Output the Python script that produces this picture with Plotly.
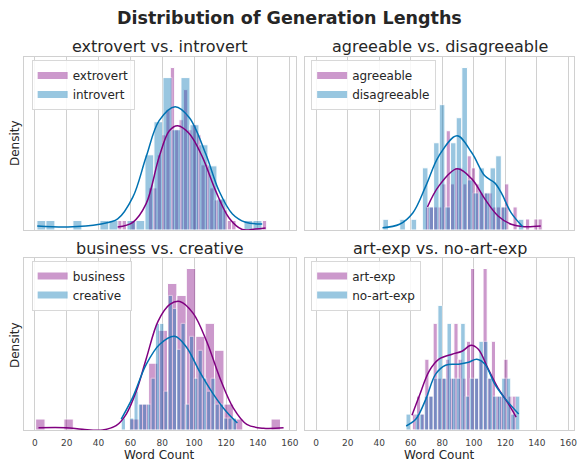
import plotly.graph_objects as go

# ---------------- data (densities in relative units) ----------------
# Panel 1: extrovert vs. introvert
extrovert_bin_start = 52.0
extrovert_bin_width = 2.75
extrovert_density = [9.5, 9.5, 0, 9.5, 0, 0, 0, 42, 42, 75, 95, 120, 162, 100, 110, 140, 100,
                     105, 95, 65, 65, 42, 30, 30, 20, 9.5, 9.5, 0, 0, 0, 0, 0, 0, 9.5]
introvert_bin_start = 1.3
introvert_bin_width = 5.65
introvert_density = [9.5, 9.5, 0, 0, 9.5, 0, 0, 9.5, 9.5, 0, 9.5, 9.5, 75, 108, 152, 100, 152,
                     105, 85, 64, 31, 0, 0, 9.5, 9.5]
extrovert_kde_x = [52, 61.5, 69.8, 78, 84.4, 89.6, 97, 105.2, 113.5, 121.9, 130.2, 138.5, 144.8]
extrovert_kde_y = [3, 7.7, 26, 72.7, 99, 104, 96, 72.7, 39, 12, 0.5, 1, 2]
introvert_kde_x = [1.5, 20.8, 40.6, 52, 61.5, 69.8, 78, 88, 97, 107.3, 115.6, 124, 132.3, 142.7]
introvert_kde_y = [4, 3, 5.7, 11, 32.7, 72.7, 109, 123, 112, 75.7, 39, 16, 7.7, 6]

# Panel 2: agreeable vs. disagreeable
agreeable_bin_start = 69.25
agreeable_bin_width = 2.65
agreeable_density = [23, 23, 23, 23, 46, 99, 46, 62, 62, 46, 74, 62, 46, 37, 37, 37, 23, 23,
                     23, 46, 0, 23, 0, 0, 11, 0, 11, 11]
disagreeable_bin_start = 42.3
disagreeable_bin_width = 3.58
disagreeable_density = [10.7, 0, 0, 10.7, 0, 10.7, 0, 62, 23, 87, 125, 23, 87, 112, 162, 50,
                        37, 62, 37, 62, 74, 23, 0, 0, 10.7]
agreeable_kde_x = [70.6, 77.9, 89.4, 98.75, 107, 115.4, 123.75, 132.1, 142.5]
agreeable_kde_y = [23, 44, 61, 51, 31, 14, 5.7, 3.3, 4]
disagreeable_kde_x = [42.1, 52.9, 61.3, 69.6, 77.9, 89.4, 98.75, 107, 113.3, 117.5, 123.75, 131]
disagreeable_kde_y = [2.3, 5.7, 17, 44, 74, 94, 77, 54, 47, 37, 17, 3.3]

# Panel 3: business vs. creative
business_bin_start = 0.5
business_bin_width = 5.91
business_density = [11, 0, 0, 11, 0, 0, 0, 0, 0, 0, 11, 26, 67, 100, 147, 135, 162, 94, 107,
                    80, 26, 11, 0, 0, 0, 11]
creative_bin_start = 54.2
creative_bin_width = 2.68
creative_density = [12, 0, 12, 39, 26, 26, 26, 52, 107, 107, 39, 135, 122, 81, 107, 26, 94,
                    52, 80, 52, 39, 52, 26, 26, 12, 12, 12]
business_kde_x = [2.3, 19.5, 30, 42.6, 51, 57.4, 63.7, 70, 77.3, 84.7, 91, 99.4, 107.8, 116.2,
                  124.6, 133, 143.5, 156.1]
business_kde_y = [2.3, 2.3, 0.7, 0.1, 4.3, 16, 39, 72, 109, 126, 129, 117, 89, 52, 22, 5.7,
                  1.7, 2.3]
creative_kde_x = [54.2, 61.5, 70, 78.4, 87.8, 95.2, 103.6, 112, 120.4, 127.1]
creative_kde_y = [11, 33, 66, 86, 94, 83, 58, 36, 18, 7]

# Panel 4: art-exp vs. no-art-exp
artexp_bin_start = 61.0
artexp_bin_width = 2.64
artexp_density = [16, 34, 16, 71, 34, 107, 52, 52, 71, 52, 107, 71, 52, 89, 162, 52, 71, 162,
                  52, 89, 34, 34, 71, 34, 34]
noartexp_bin_start = 57.0
noartexp_bin_width = 2.89
noartexp_density = [16, 0, 16, 16, 34, 34, 52, 125, 52, 107, 52, 52, 107, 34, 52, 52, 89, 89,
                    52, 34, 34, 52, 52, 16, 34]
artexp_kde_x = [60.8, 65.4, 71.7, 77.9, 86.25, 92.5, 98.3, 102.9, 109.2, 115.4, 121.7, 126.9]
artexp_kde_y = [14.7, 34, 59, 71, 76, 79, 85, 81, 61, 42, 27, 13]
noartexp_kde_x = [57.1, 63.3, 69.6, 75.8, 82.1, 90.4, 96.7, 101.9, 107.1, 113.3, 119.6, 128.5]
noartexp_kde_y = [4, 11, 31, 56, 65, 66, 68, 71, 66, 46, 32, 16]

panel_titles = ["extrovert vs. introvert", "agreeable vs. disagreeable",
                "business vs. creative", "art-exp vs. no-art-exp"]
x_ticks = [0, 20, 40, 60, 80, 100, 120, 140, 160]

# ---------------- styling ----------------
PURPLE = "#800080"
BLUE = "#0072B2"
PURPLE_FILL = "rgba(128,0,128,0.4)"
BLUE_FILL = "rgba(0,114,178,0.4)"
TEXT = "#262626"
GRID = "#d0d0d0"
FONT = "DejaVu Sans"

W, H = 581, 462
ML, MR, MT, MB = 24, 4, 57, 32
PW, PH = W - ML - MR, H - MT - MB


def px_x(px):
    return (px - ML) / PW


def px_y(py):
    return (H - MB - py) / PH


doms_x = [[px_x(24), px_x(297)], [px_x(307), px_x(577)]]
doms_y = [[px_y(230), px_y(57)], [px_y(430), px_y(258)]]

series = [
    ("extrovert", extrovert_bin_start, extrovert_bin_width, extrovert_density, extrovert_kde_x, extrovert_kde_y,
     "introvert", introvert_bin_start, introvert_bin_width, introvert_density, introvert_kde_x, introvert_kde_y),
    ("agreeable", agreeable_bin_start, agreeable_bin_width, agreeable_density, agreeable_kde_x, agreeable_kde_y,
     "disagreeable", disagreeable_bin_start, disagreeable_bin_width, disagreeable_density, disagreeable_kde_x, disagreeable_kde_y),
    ("business", business_bin_start, business_bin_width, business_density, business_kde_x, business_kde_y,
     "creative", creative_bin_start, creative_bin_width, creative_density, creative_kde_x, creative_kde_y),
    ("art-exp", artexp_bin_start, artexp_bin_width, artexp_density, artexp_kde_x, artexp_kde_y,
     "no-art-exp", noartexp_bin_start, noartexp_bin_width, noartexp_density, noartexp_kde_x, noartexp_kde_y),
]

fig = go.Figure()
layout = dict(
    width=W, height=H, margin=dict(l=ML, r=MR, t=MT, b=MB),
    paper_bgcolor="white", plot_bgcolor="white",
    barmode="overlay", showlegend=True,
    font=dict(family=FONT, color=TEXT),
)

legend_pos = [(31.7, 60), (312.7, 60), (31.7, 260.5), (312.7, 260.5)]
annotations = []

for i, (pn, ps, pw, pd, pkx, pky, bn, bs, bw, bd, bkx, bky) in enumerate(series):
    row, col = i // 2, i % 2
    ax = "" if i == 0 else str(i + 1)
    xa, ya = "x" + ax, "y" + ax
    lg = "legend" if i == 0 else "legend" + str(i + 1)

    for name, start, width, dens, fill, line in [(pn, ps, pw, pd, PURPLE, PURPLE), (bn, bs, bw, bd, BLUE, BLUE)]:
        centers = [start + width * (k + 0.5) for k in range(len(dens))]
        fig.add_trace(go.Bar(
            x=centers, y=dens, width=[width] * len(dens), xaxis=xa, yaxis=ya,
            marker=dict(color=fill, line=dict(color="white", width=1)), opacity=0.4,
            showlegend=False, hoverinfo="skip"))
    for kx, ky, color in [(pkx, pky, PURPLE), (bkx, bky, BLUE)]:
        fig.add_trace(go.Scatter(
            x=kx, y=ky, xaxis=xa, yaxis=ya, mode="lines",
            line=dict(color=color, width=1.5, shape="spline", smoothing=1.0),
            showlegend=False, hoverinfo="skip"))
    # legend proxies (patches)
    for name, fill in [(pn, PURPLE_FILL), (bn, BLUE_FILL)]:
        fig.add_trace(go.Scatter(
            x=[None], y=[None], xaxis=xa, yaxis=ya, mode="lines", name=name,
            line=dict(color=fill, width=7), legend=lg, showlegend=True))

    ymax = max(max(pd), max(bd)) * 1.065
    layout["xaxis" + ax] = dict(
        domain=doms_x[col], anchor=ya, range=[-6.8, 163.6], tickvals=x_ticks,
        showgrid=True, gridcolor=GRID, gridwidth=1, zeroline=False,
        showline=True, mirror=True, linecolor=GRID, linewidth=1,
        ticks="", showticklabels=(row == 1), ticklabelstandoff=4,
        tickfont=dict(size=9, color="#404040", family=FONT),
    )
    layout["yaxis" + ax] = dict(
        domain=doms_y[row], anchor=xa, range=[0, ymax], showgrid=False,
        zeroline=False, showline=True, mirror=True, linecolor=GRID, linewidth=1,
        ticks="", showticklabels=False,
    )
    lx, ly = legend_pos[i]
    layout[lg] = dict(
        x=px_x(lx), y=px_y(ly), xanchor="left", yanchor="top",
        bgcolor="rgba(255,255,255,0.85)", bordercolor="#d8d8d8", borderwidth=1,
        font=dict(size=12, color=TEXT, family=FONT), tracegroupgap=0, itemwidth=30,
    )
    cx = (doms_x[col][0] + doms_x[col][1]) / 2
    ty = 47 if row == 0 else 248
    annotations.append(dict(text=panel_titles[i], x=cx, y=px_y(ty), xref="paper", yref="paper",
                            showarrow=False, xanchor="center", yanchor="middle",
                            font=dict(size=16, color=TEXT, family=FONT)))
    if col == 0:
        dy = 143 if row == 0 else 345
        annotations.append(dict(text="Density", x=px_x(15), y=px_y(dy), xref="paper", yref="paper",
                                showarrow=False, textangle=-90, xanchor="center", yanchor="middle",
                                font=dict(size=12, color=TEXT, family=FONT)))
    if row == 1:
        annotations.append(dict(text="Word Count", x=cx, y=px_y(455), xref="paper", yref="paper",
                                showarrow=False, xanchor="center", yanchor="middle",
                                font=dict(size=12, color=TEXT, family=FONT)))

annotations.append(dict(text="<b>Distribution of Generation Lengths</b>", x=px_x(290.5), y=px_y(18),
                        xref="paper", yref="paper", showarrow=False, xanchor="center", yanchor="middle",
                        font=dict(size=17.5, color=TEXT, family=FONT)))
layout["annotations"] = annotations
fig.update_layout(**layout)
fig.write_html("out.html")
